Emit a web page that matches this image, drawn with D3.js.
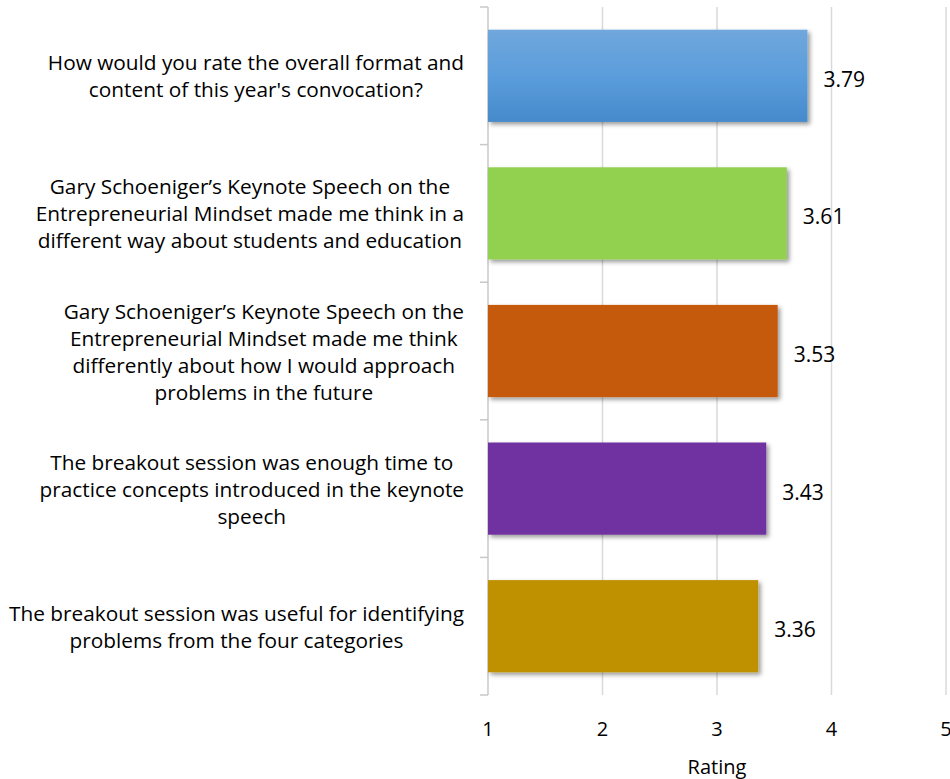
<!DOCTYPE html>
<html>
<head>
<meta charset="utf-8">
<script src="https://cdn.jsdelivr.net/npm/d3@7"></script>
<style>
  html, body { margin: 0; padding: 0; background: #fff; }
  svg { display: block; font-family: "Open Sans", sans-serif; }
</style>
</head>
<body>
<svg id="chart" width="950" height="779"></svg>
<script>
// ---- data ----
const categories = [
  ["How would you rate the overall format and", "content of this year's convocation?"],
  ["Gary Schoeniger\u2019s Keynote Speech on the", "Entrepreneurial Mindset made me think in a", "different way about students and education"],
  ["Gary Schoeniger\u2019s Keynote Speech on the", "Entrepreneurial Mindset made me think", "differently about how I would approach", "problems in the future"],
  ["The breakout session was enough time to", "practice concepts introduced in the keynote", "speech"],
  ["The breakout session was useful for identifying", "problems from the four categories"]
];
const values = [3.79, 3.61, 3.53, 3.43, 3.36];
const barColors = ["#5b9bd5", "#92d050", "#c55a11", "#7030a0", "#bf9000"];
const xTicks = [1, 2, 3, 4, 5];
const xTitle = "Rating";

// ---- layout ----
const svg = d3.select("#chart");
const pLeft = 488, pRight = 946, pTop = 7, pBottom = 695;

const x = d3.scaleLinear().domain([1, 5]).range([pLeft, pRight]);
const y = d3.scaleBand().domain(d3.range(categories.length)).range([pTop, pBottom]).paddingInner(0.33).paddingOuter(0.165);

const defs = svg.append("defs");
const f = defs.append("filter").attr("id", "shadow").attr("x", "-5%").attr("y", "-10%").attr("width", "115%").attr("height", "130%");
f.append("feDropShadow").attr("dx", 2.5).attr("dy", 2.5).attr("stdDeviation", 2).attr("flood-color", "#000").attr("flood-opacity", 0.4);

const g0 = defs.append("linearGradient").attr("id", "blueGrad").attr("x1", 0).attr("y1", 0).attr("x2", 0).attr("y2", 1);
g0.append("stop").attr("offset", "0%").attr("stop-color", "#70a7dc");
g0.append("stop").attr("offset", "50%").attr("stop-color", "#5b9ddc");
g0.append("stop").attr("offset", "100%").attr("stop-color", "#468acb");

// gridlines
svg.append("g").selectAll("line").data(xTicks.slice(1)).join("line")
  .attr("x1", d => x(d)).attr("x2", d => x(d))
  .attr("y1", pTop).attr("y2", pBottom)
  .attr("stroke", "#d9d9d9").attr("stroke-width", 1.5);

// left axis with ticks at band boundaries
const bounds = d3.range(categories.length + 1).map(i => pTop + i * y.step());
const ax = svg.append("g");
ax.append("line").attr("x1", pLeft).attr("x2", pLeft).attr("y1", pTop).attr("y2", pBottom)
  .attr("stroke", "#c8c8c8").attr("stroke-width", 1.5);
ax.selectAll("line.tk").data(bounds).join("line").attr("class", "tk")
  .attr("x1", pLeft - 8).attr("x2", pLeft).attr("y1", d => d).attr("y2", d => d)
  .attr("stroke", "#c8c8c8").attr("stroke-width", 1.5);

// bars
svg.append("g").selectAll("rect").data(values).join("rect")
  .attr("x", x(1)).attr("y", (d, i) => y(i))
  .attr("width", d => x(d) - x(1)).attr("height", y.bandwidth())
  .attr("fill", (d, i) => i === 0 ? "url(#blueGrad)" : barColors[i])
  .attr("filter", "url(#shadow)");

// value labels
svg.append("g").selectAll("text").data(values).join("text")
  .attr("x", d => x(d) + 16).attr("y", (d, i) => y(i) + y.bandwidth() / 2 + 3)
  .attr("dominant-baseline", "central")
  .attr("font-size", 21).attr("fill", "#000")
  .text(d => d.toFixed(2));

// category labels
const labelRight = 464, lineH = 27, catFont = 20.8;
const cl = svg.append("g");
categories.forEach((lines, i) => {
  const cy = y(i) + y.bandwidth() / 2;
  const grp = cl.append("g");
  const texts = grp.selectAll("text").data(lines).join("text")
    .attr("font-size", catFont).attr("fill", "#000")
    .attr("text-anchor", "middle").attr("dominant-baseline", "central")
    .attr("y", (d, j) => cy + (j - (lines.length - 1) / 2) * lineH)
    .text(d => d);
  let maxW = 0;
  texts.each(function () { maxW = Math.max(maxW, this.getComputedTextLength()); });
  texts.attr("x", labelRight - maxW / 2);
});

// x tick labels
svg.append("g").selectAll("text").data(xTicks).join("text")
  .attr("x", d => x(d)).attr("y", 728)
  .attr("text-anchor", "middle").attr("dominant-baseline", "central")
  .attr("font-size", 20).attr("fill", "#000")
  .text(d => d);

// x title
svg.append("text").attr("x", (pLeft + pRight) / 2).attr("y", 766)
  .attr("text-anchor", "middle").attr("dominant-baseline", "central")
  .attr("font-size", 20).attr("fill", "#000").text(xTitle);
</script>
</body>
</html>
